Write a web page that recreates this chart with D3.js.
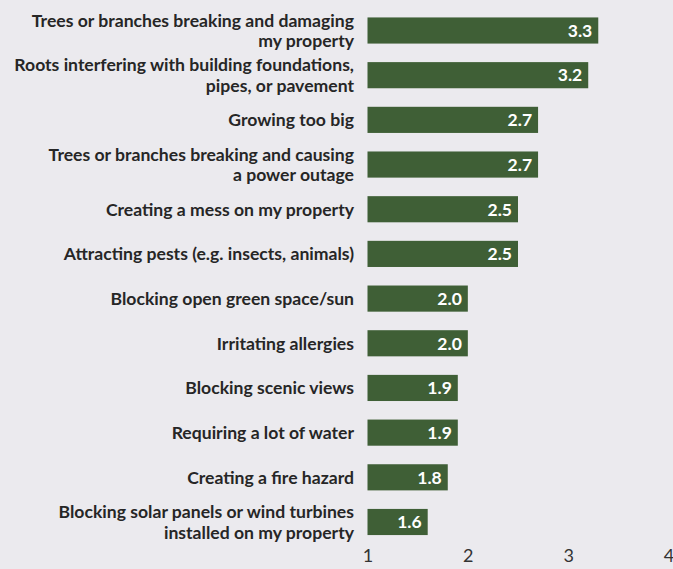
<!DOCTYPE html>
<html>
<head>
<meta charset="utf-8">
<script src="https://cdn.jsdelivr.net/npm/d3@7"></script>
<style>
  html, body { margin: 0; padding: 0; background: #ebeaee; }
  svg { display: block; }
</style>
</head>
<body>
<svg id="chart" width="673" height="569"></svg>
<script>
// Concerns about trees, mean rating (1–4 scale)
const categories = [
  ["Trees or branches breaking and damaging", "my property"],
  ["Roots interfering with building foundations,", "pipes, or pavement"],
  ["Growing too big"],
  ["Trees or branches breaking and causing", "a power outage"],
  ["Creating a mess on my property"],
  ["Attracting pests (e.g. insects, animals)"],
  ["Blocking open green space/sun"],
  ["Irritating allergies"],
  ["Blocking scenic views"],
  ["Requiring a lot of water"],
  ["Creating a fire hazard"],
  ["Blocking solar panels or wind turbines", "installed on my property"]
];
const values = [3.3, 3.2, 2.7, 2.7, 2.5, 2.5, 2.0, 2.0, 1.9, 1.9, 1.8, 1.6];
const tickValues = [1, 2, 3, 4];

const svg = d3.select("#chart");
const font = "Lato, 'Open Sans', sans-serif";

const x = d3.scaleLinear().domain([1, 4]).range([367.5, 668.5]);
const y = d3.scaleBand()
  .domain(d3.range(values.length))
  .range([8.5, 544])
  .paddingInner(0.415)
  .paddingOuter(0.2);

const rows = svg.append("g").selectAll("g")
  .data(values)
  .join("g")
  .attr("transform", (d, i) => `translate(0,${y(i)})`);

rows.append("rect")
  .attr("x", x(1))
  .attr("y", 0)
  .attr("width", d => x(d) - x(1))
  .attr("height", y.bandwidth())
  .attr("fill", "#3f5f36");

rows.append("text")
  .attr("x", d => x(d) - 6)
  .attr("y", y.bandwidth() / 2)
  .attr("dy", "0.36em")
  .attr("text-anchor", "end")
  .attr("fill", "#ffffff")
  .style("font-family", font)
  .style("font-weight", 700)
  .style("font-size", "17.5px")
  .text(d => d.toFixed(1));

// Category labels, one or two lines, right-aligned beside the bars
rows.append("text")
  .attr("text-anchor", "end")
  .attr("fill", "#262626")
  .style("font-family", font)
  .style("font-weight", 700)
  .style("font-size", "17.6px")
  .each(function(d, i) {
    const lines = categories[i];
    const t = d3.select(this);
    const lh = 20.5;
    const start = y.bandwidth() / 2 - (lines.length - 1) * lh / 2;
    lines.forEach((ln, j) => {
      t.append("tspan")
        .attr("x", 354)
        .attr("y", start + j * lh)
        .attr("dy", "0.36em")
        .text(ln);
    });
  });

// Bottom axis: tick labels only
const axis = svg.append("g")
  .attr("transform", "translate(0,545)")
  .call(d3.axisBottom(x).tickValues(tickValues).tickFormat(d3.format("d")).tickSize(0).tickPadding(4));
axis.select(".domain").remove();
axis.selectAll("text")
  .attr("fill", "#333333")
  .style("font-family", font)
  .style("font-size", "18px");
</script>
</body>
</html>
